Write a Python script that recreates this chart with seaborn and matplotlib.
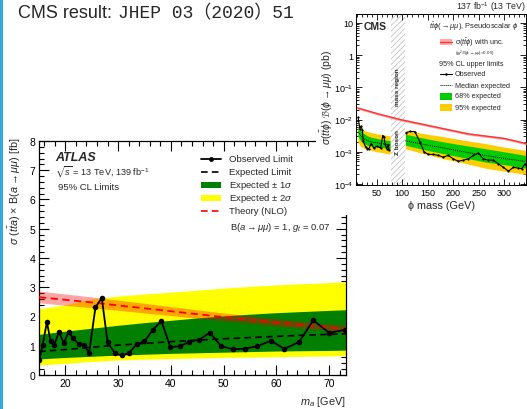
import numpy as np
import pandas as pd
import matplotlib
matplotlib.use("Agg")
import matplotlib.pyplot as plt
from matplotlib.lines import Line2D
from matplotlib.patches import Rectangle
from matplotlib.ticker import MultipleLocator, FixedLocator, LogLocator, NullFormatter
import seaborn as sns

# ---------------- ATLAS: ttbar a, a -> mu mu (95% CL limits, fb) ----------------
atlas_obs_mass = [15.06, 15.7, 16.5, 17.2, 17.9, 18.8, 19.7, 20.6, 21.45, 22.5, 23.5,
                  24.5, 25.7, 26.9, 28.0, 29.4, 30.7, 32.0, 33.5, 35.0, 36.6, 38.2,
                  39.9, 41.7, 43.5, 45.4, 47.4, 49.5, 51.75, 54.1, 56.4, 59.0, 61.5,
                  64.3, 67.0, 70.0, 73.1]
atlas_obs_limit = [0.52, 1.04, 1.81, 1.15, 1.04, 1.48, 1.08, 1.48, 1.25, 1.07, 1.04,
                   0.76, 2.31, 2.64, 1.12, 0.74, 0.67, 0.74, 1.05, 1.15, 1.55, 1.84,
                   0.96, 0.98, 1.14, 1.21, 1.45, 0.99, 0.88, 0.90, 0.99, 1.17, 0.89,
                   1.13, 1.87, 1.44, 1.55]

atlas_grid_mass = [15, 20, 25, 30, 35, 40, 45, 50, 55, 60, 65, 70, 73.2]
atlas_exp = [0.80, 0.87, 0.95, 1.02, 1.08, 1.14, 1.19, 1.24, 1.28, 1.32, 1.36, 1.39, 1.41]
atlas_1s_hi = [1.39, 1.50, 1.60, 1.70, 1.79, 1.87, 1.95, 2.02, 2.08, 2.13, 2.17, 2.21, 2.23]
atlas_1s_lo = [0.55, 0.60, 0.64, 0.68, 0.71, 0.74, 0.76, 0.78, 0.80, 0.82, 0.83, 0.84, 0.85]
atlas_2s_hi = [2.26, 2.40, 2.60, 2.70, 2.77, 2.83, 2.90, 2.97, 3.03, 3.08, 3.12, 3.16, 3.19]
atlas_2s_lo = [0.34, 0.40, 0.46, 0.51, 0.54, 0.56, 0.58, 0.60, 0.61, 0.62, 0.64, 0.65, 0.66]
atlas_theory = [2.66, 2.57, 2.48, 2.38, 2.28, 2.18, 2.08, 1.98, 1.89, 1.79, 1.71, 1.63, 1.57]
atlas_theory_hi = [2.87, 2.77, 2.67, 2.56, 2.45, 2.34, 2.23, 2.12, 2.02, 1.92, 1.83, 1.75, 1.70]
atlas_theory_lo = [2.47, 2.38, 2.30, 2.21, 2.12, 2.03, 1.94, 1.85, 1.77, 1.68, 1.60, 1.52, 1.45]

# ---------------- CMS: ttbar phi, phi -> mu mu (pb) ----------------
cms_obs_mass_low = [13, 16.5, 19, 21.5, 23, 27.8, 31.5, 34.3, 38.8, 44, 50.6, 57.3,
                    61.5, 63.8, 66, 69, 72.2, 74]
cms_obs_low = [0.012, 0.0052, 0.0063, 0.0047, 0.0022, 0.0014, 0.00125, 0.00125, 0.0018,
               0.0013, 0.0015, 0.0013, 0.0032, 0.0029, 0.0018, 0.00125, 0.0016, 0.0011]
cms_obs_mass_high = [107, 115, 124.8, 134.6, 142.5, 151, 160.8, 170.7, 180.5, 190.4,
                     200.2, 210, 219.9, 229.7, 239.6, 249.4, 259.3, 269, 279, 288.8,
                     298.6, 308.5, 318.3, 328, 334.8, 341]
cms_obs_high = [0.0039, 0.0043, 0.0042, 0.0020, 0.0010, 0.00083, 0.00083, 0.00077,
                0.00068, 0.00077, 0.00060, 0.00051, 0.00055, 0.00060, 0.00077, 0.00091,
                0.00060, 0.00055, 0.00055, 0.00042, 0.00033, 0.00025, 0.00033, 0.00031,
                0.00030, 0.00042]

cms_band_mass_low = [13, 18, 24, 32, 40, 50, 60, 70, 76]
cms_exp_low = [0.0042, 0.0032, 0.0026, 0.0022, 0.0020, 0.0019, 0.0018, 0.0017, 0.0016]
cms_1s_hi_low = [0.0062, 0.0045, 0.0037, 0.0031, 0.0028, 0.0026, 0.0024, 0.0023, 0.0022]
cms_1s_lo_low = [0.0030, 0.0022, 0.0018, 0.0016, 0.0015, 0.0014, 0.00135, 0.0013, 0.0012]
cms_2s_hi_low = [0.0085, 0.0058, 0.0046, 0.0042, 0.0039, 0.0036, 0.0034, 0.0032, 0.0031]
cms_2s_lo_low = [0.0020, 0.0015, 0.0013, 0.0012, 0.0011, 0.0010, 0.00095, 0.00088, 0.00085]

cms_band_mass_high = [106, 150, 183, 220, 263, 300, 343]
cms_exp_high = [0.0022, 0.0016, 0.0013, 0.0010, 0.00077, 0.00062, 0.00050]
cms_1s_hi_high = [0.0035, 0.0025, 0.0020, 0.0016, 0.00125, 0.0010, 0.00077]
cms_1s_lo_high = [0.0016, 0.0011, 0.00086, 0.00066, 0.00048, 0.00040, 0.00031]
cms_2s_hi_high = [0.0046, 0.0035, 0.0029, 0.0023, 0.0018, 0.0014, 0.0011]
cms_2s_lo_high = [0.00125, 0.0008, 0.0006, 0.00045, 0.00031, 0.00025, 0.00020]

cms_theory_mass = [12, 50, 96, 150, 229, 300, 343]
cms_theory = [0.023, 0.0154, 0.010, 0.0066, 0.0036, 0.0026, 0.0018]
cms_theory_rel_unc = 0.08

W, H = 527, 410

sns.set_style("ticks")
plt.rcParams["font.family"] = ["Liberation Sans", "DejaVu Sans", "Noto Sans CJK JP"]
plt.rcParams["mathtext.fontset"] = "custom"
plt.rcParams["mathtext.rm"] = "Liberation Sans"
plt.rcParams["mathtext.it"] = "Liberation Sans:italic"
plt.rcParams["mathtext.bf"] = "Liberation Sans:bold"
plt.rcParams["mathtext.fallback"] = "stixsans"
plt.rcParams["hatch.linewidth"] = 0.6

fig = plt.figure(figsize=(W / 100, H / 100), dpi=100)
fig.patch.set_facecolor("white")


def fx(x):
    return x / W


def fy(y):
    return 1 - y / H


# accent bar on the left edge
fig.add_artist(Rectangle((0, 0), fx(2.7), 1, transform=fig.transFigure,
                         facecolor="#35a9dd", edgecolor="none", zorder=5))

fig.text(fx(18), fy(14), "CMS result:", fontsize=13, va="center", ha="left")
fig.text(fx(118), fy(14), "JHEP 03（2020）51", fontsize=13, va="center", ha="left",
         family=["Liberation Mono", "Noto Sans CJK JP"])

# ================= ATLAS panel =================
ax = fig.add_axes([fx(39), fy(376), fx(346) - fx(39), fy(142) - fy(376)])
ax.set_zorder(0)

ax.fill_between(atlas_grid_mass, atlas_2s_lo, atlas_2s_hi, color="#ffff00", lw=0, zorder=1)
ax.fill_between(atlas_grid_mass, atlas_1s_lo, atlas_1s_hi, color="#007f00", lw=0, zorder=2)
ax.fill_between(atlas_grid_mass, atlas_theory_lo, atlas_theory_hi, color="#ff0000",
                alpha=0.35, lw=0, zorder=3)

atlas_band = pd.DataFrame({"mass": atlas_grid_mass, "exp": atlas_exp, "theory": atlas_theory})
atlas_obs = pd.DataFrame({"mass": atlas_obs_mass, "limit": atlas_obs_limit})

sns.lineplot(data=atlas_band, x="mass", y="exp", ax=ax, color="black", lw=1.2,
             linestyle=(0, (4, 2.5)), zorder=4)
sns.lineplot(data=atlas_band, x="mass", y="theory", ax=ax, color="#ff0000", lw=1.3,
             linestyle=(0, (4, 2.5)), zorder=5)
sns.lineplot(data=atlas_obs, x="mass", y="limit", ax=ax, color="black", lw=1.3,
             marker="o", markersize=4, markeredgewidth=0, zorder=6)

ax.set_xlim(15, 73.2)
ax.set_ylim(0, 8)
ax.xaxis.set_major_locator(MultipleLocator(10))
ax.xaxis.set_minor_locator(MultipleLocator(2))
ax.yaxis.set_major_locator(MultipleLocator(1))
ax.yaxis.set_minor_locator(MultipleLocator(0.2))
ax.tick_params(which="both", direction="in", top=True, right=True, width=0.8,
               labelsize=7.5, pad=2.5, colors="black")
ax.tick_params(which="major", length=7)
ax.tick_params(which="minor", length=3.5)
for s in ax.spines.values():
    s.set_linewidth(0.9)
    s.set_color("black")
ax.set_xlabel("$m_a$ [GeV]", fontsize=7.8, loc="right", labelpad=4)
ax.set_ylabel("")

fig.text(fx(15), fy(137), r"$\sigma\ (t\bar{t}a)$ × B($a \rightarrow \mu\mu$) [fb]",
         rotation=90, fontsize=7.8, ha="center", va="top")

fig.text(fx(55), fy(158), "ATLAS", fontsize=9, fontweight="bold", fontstyle="italic",
         ha="left", va="center")
fig.text(fx(55), fy(172), r"$\sqrt{s}$ = 13 TeV, 139 fb$^{-1}$", fontsize=6.6,
         ha="left", va="center")
fig.text(fx(58), fy(188), "95% CL Limits", fontsize=6.8, ha="left", va="center")

# legend entries
rows = [160, 173, 186, 199, 212]
labels = ["Observed Limit", "Expected Limit", r"Expected $\pm$ 1$\sigma$",
          r"Expected $\pm$ 2$\sigma$", "Theory (NLO)"]
hx0, hx1, tx = 201, 221, 229
fig.add_artist(Line2D([fx(hx0), fx(hx1)], [fy(rows[0])] * 2, transform=fig.transFigure,
                      color="black", lw=1.3))
fig.add_artist(Line2D([fx((hx0 + hx1) / 2)], [fy(rows[0])], transform=fig.transFigure,
                      color="black", marker="o", markersize=3.5, markeredgewidth=0))
fig.add_artist(Line2D([fx(hx0), fx(hx1)], [fy(rows[1])] * 2, transform=fig.transFigure,
                      color="black", lw=1.2, linestyle=(0, (4, 2.5))))
fig.add_artist(Rectangle((fx(hx0), fy(rows[2] + 2.8)), fx(hx1) - fx(hx0), 5.6 / H,
                         transform=fig.transFigure, facecolor="#007f00", lw=0))
fig.add_artist(Rectangle((fx(hx0), fy(rows[3] + 2.8)), fx(hx1) - fx(hx0), 5.6 / H,
                         transform=fig.transFigure, facecolor="#ffff00", lw=0))
fig.add_artist(Line2D([fx(hx0), fx(hx1)], [fy(rows[4])] * 2, transform=fig.transFigure,
                      color="#ff0000", lw=1.2, linestyle=(0, (4, 2.5))))
for r, lab in zip(rows, labels):
    fig.text(fx(tx), fy(r), lab, fontsize=6.8, ha="left", va="center")
fig.text(fx(230), fy(228), r"B($a \rightarrow \mu\mu$) = 1, $g_t$ = 0.07", fontsize=6.8,
         ha="left", va="center")

# white backing for the CMS inset
fig.add_artist(Rectangle((fx(316), fy(216)), 1 - fx(316), 1 - fy(216) + 0.01,
                         transform=fig.transFigure, facecolor="white", edgecolor="none",
                         zorder=1))

# ================= CMS inset =================
ac = fig.add_axes([fx(356), fy(186), fx(526) - fx(356), fy(15) - fy(186)])
ac.set_zorder(2)
ac.set_facecolor("white")
ac.set_yscale("log")

ac.axvspan(77, 106, facecolor="white", edgecolor="#c4c4c4", hatch="//////", lw=0, zorder=0.5)

for m, lo2, hi2, lo1, hi1 in [
    (cms_band_mass_low, cms_2s_lo_low, cms_2s_hi_low, cms_1s_lo_low, cms_1s_hi_low),
    (cms_band_mass_high, cms_2s_lo_high, cms_2s_hi_high, cms_1s_lo_high, cms_1s_hi_high),
]:
    ac.fill_between(m, lo2, hi2, color="#ffcc00", lw=0, zorder=1)
    ac.fill_between(m, lo1, hi1, color="#00cc00", lw=0, zorder=2)

cms_th = np.array(cms_theory)
ac.fill_between(cms_theory_mass, cms_th * (1 - cms_theory_rel_unc),
                cms_th * (1 + cms_theory_rel_unc), color="#ffa0a0", lw=0, zorder=3)
sns.lineplot(x=cms_theory_mass, y=cms_theory, ax=ac, color="#ff3333", lw=1.0, zorder=4)

sns.lineplot(x=cms_band_mass_low, y=cms_exp_low, ax=ac, color="black", lw=0.7,
             linestyle=(0, (1, 1)), zorder=5)
sns.lineplot(x=cms_band_mass_high, y=cms_exp_high, ax=ac, color="black", lw=0.7,
             linestyle=(0, (1, 1)), zorder=5)
sns.lineplot(x=cms_obs_mass_low, y=cms_obs_low, ax=ac, color="black", lw=0.8,
             marker="o", markersize=1.6, markeredgewidth=0, zorder=6)
sns.lineplot(x=cms_obs_mass_high, y=cms_obs_high, ax=ac, color="black", lw=0.8,
             marker="o", markersize=1.6, markeredgewidth=0, zorder=6)

ac.set_xlim(9, 343)
ac.set_ylim(9.3e-5, 19)
ac.xaxis.set_major_locator(MultipleLocator(50))
ac.xaxis.set_minor_locator(MultipleLocator(10))
ac.yaxis.set_major_locator(FixedLocator([1e-4, 1e-3, 1e-2, 1e-1, 1, 10]))
ac.set_yticklabels(["$10^{-4}$", "$10^{-3}$", "$10^{-2}$", "$10^{-1}$", "1", "10"])
ac.yaxis.set_minor_locator(LogLocator(base=10, subs=np.arange(2, 10)))
ac.yaxis.set_minor_formatter(NullFormatter())
ac.tick_params(which="both", direction="in", top=True, right=True, width=0.6,
               labelsize=6.5, pad=2, colors="black")
ac.tick_params(which="major", length=4.5)
ac.tick_params(which="minor", length=2.2)
for s in ac.spines.values():
    s.set_linewidth(0.7)
    s.set_color("black")
ac.set_xlabel("ϕ mass (GeV)", fontsize=7.8, labelpad=2)
ac.set_ylabel("")

ac.text(91.5, 0.0021, "Z boson", rotation=90, fontsize=4.6, fontweight="bold",
        ha="center", va="center", zorder=7)
ac.text(91.5, 0.11, "mass region", rotation=90, fontsize=4.6, fontweight="bold",
        ha="center", va="center", zorder=7)

fig.text(fx(327), fy(97), r"$\sigma(t\bar{t}\phi)\ \mathcal{B}(\phi\rightarrow\mu\mu)$ (pb)",
         rotation=90, fontsize=7.5, ha="center", va="center", zorder=6)
fig.text(fx(364), fy(27), "CMS", fontsize=7.5, fontweight="bold", ha="left", va="center",
         zorder=6)
fig.text(fx(526), fy(7), "137 fb$^{-1}$ (13 TeV)", fontsize=6.3, ha="right", va="center",
         zorder=6)
fig.text(fx(518), fy(27), r"$t\bar{t}\phi(\rightarrow\mu\mu)$, Pseudoscalar $\phi$",
         fontsize=5.4, ha="right", va="center", zorder=6)

# CMS legend
lx0, lx1, ltx = 440, 452, 455
fig.add_artist(Rectangle((fx(lx0), fy(46)), fx(lx1) - fx(lx0), 6 / H, transform=fig.transFigure,
                         facecolor="#ffaaaa", lw=0, zorder=6))
fig.add_artist(Line2D([fx(lx0), fx(lx1)], [fy(43)] * 2, transform=fig.transFigure,
                      color="#ff3333", lw=1.0, zorder=7))
fig.text(fx(ltx), fy(42.5), r"σ($t\bar{t}\phi$) with unc.", fontsize=5.2, ha="left",
         va="center", zorder=6)
fig.text(fx(ltx), fy(53.5), r"($g_t^2\,\mathcal{B}(\phi\rightarrow\mu\mu)$=0.05)", fontsize=3.2,
         ha="left", va="center", zorder=6)
fig.text(fx(439), fy(64), "95% CL upper limits", fontsize=5.2, ha="left", va="center", zorder=6)
fig.add_artist(Line2D([fx(lx0), fx(lx1)], [fy(75)] * 2, transform=fig.transFigure,
                      color="black", lw=0.8, zorder=7))
fig.add_artist(Line2D([fx((lx0 + lx1) / 2)], [fy(75)], transform=fig.transFigure,
                      color="black", marker="o", markersize=1.8, markeredgewidth=0, zorder=7))
fig.text(fx(ltx), fy(75), "Observed", fontsize=5.2, ha="left", va="center", zorder=6)
fig.add_artist(Line2D([fx(lx0), fx(lx1)], [fy(86)] * 2, transform=fig.transFigure,
                      color="black", lw=0.7, linestyle=(0, (1, 1)), zorder=7))
fig.text(fx(ltx), fy(86), "Median expected", fontsize=5.2, ha="left", va="center", zorder=6)
fig.add_artist(Rectangle((fx(lx0), fy(100.5)), fx(lx1) - fx(lx0), 7 / H,
                         transform=fig.transFigure, facecolor="#00cc00", lw=0, zorder=6))
fig.text(fx(ltx), fy(97), "68% expected", fontsize=5.2, ha="left", va="center", zorder=6)
fig.add_artist(Rectangle((fx(lx0), fy(111.5)), fx(lx1) - fx(lx0), 7 / H,
                         transform=fig.transFigure, facecolor="#ffcc00", lw=0, zorder=6))
fig.text(fx(ltx), fy(108), "95% expected", fontsize=5.2, ha="left", va="center", zorder=6)

fig.savefig("out.png", dpi=100)
